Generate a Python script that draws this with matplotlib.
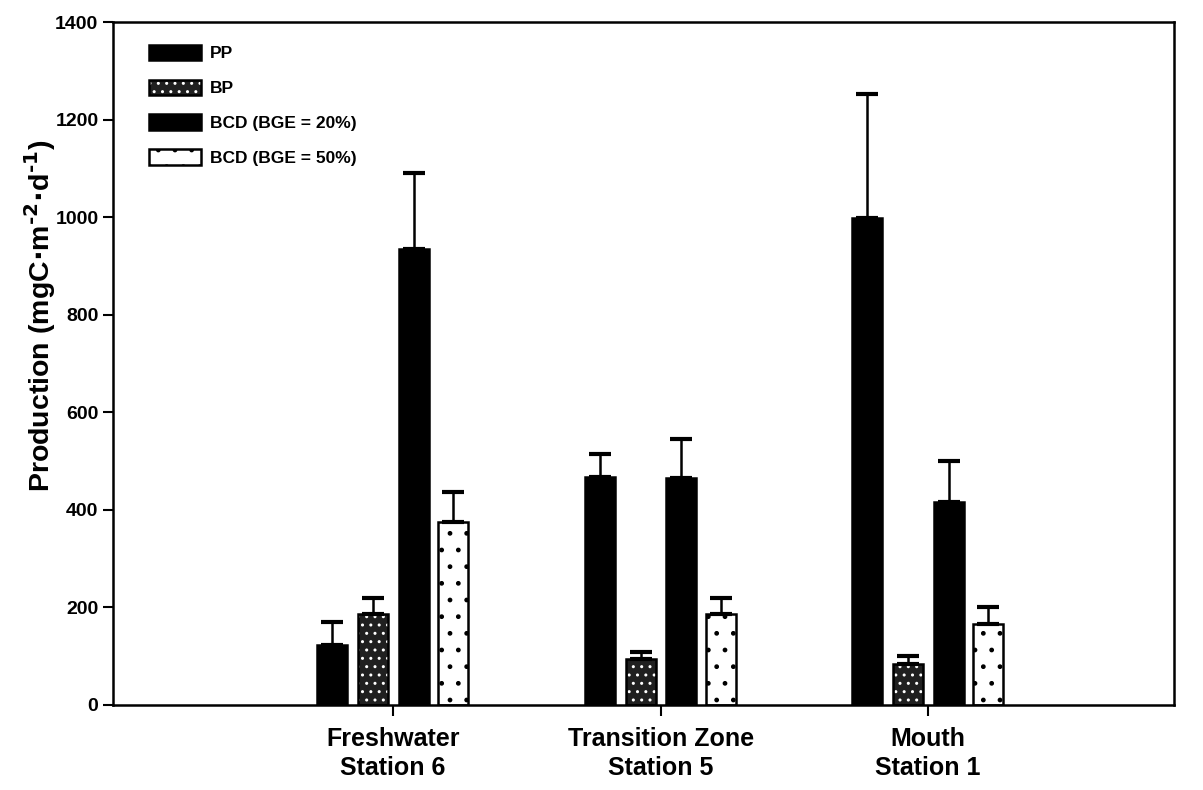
import numpy as np
import matplotlib
matplotlib.use('Agg')
import matplotlib.pyplot as plt
from matplotlib.patches import Patch
from matplotlib.legend_handler import HandlerTuple

plt.rcParams['font.family'] = ['Liberation Sans', 'DejaVu Sans']
plt.rcParams['font.weight'] = 'bold'
plt.rcParams['mathtext.default'] = 'bf'
plt.rcParams['hatch.linewidth'] = 1.0

stations = ['Freshwater\nStation 6', 'Transition Zone\nStation 5', 'Mouth\nStation 1']
series = ['PP', 'BP', 'BCD (BGE = 20%)', 'BCD (BGE = 50%)']

pp = [123, 468, 998]
pp_err = [47, 47, 255]
bp = [187, 93, 83]
bp_err = [31, 16, 17]
bcd20 = [935, 465, 415]
bcd20_err = [155, 80, 85]
bcd50 = [374, 186, 166]
bcd50_err = [62, 32, 34]

values = [pp, bp, bcd20, bcd50]
errors = [pp_err, bp_err, bcd20_err, bcd50_err]

# face, hatch colour, hatch pattern for each series
styles = [
    ('black', None, None),
    ('#202020', 'white', '..'),
    ('black', None, None),
    ('white', 'black', '.'),
]

fig = plt.figure(figsize=(12.03, 7.9), dpi=100)
ax = fig.add_axes([0.094, 0.108, 0.882, 0.864])

x = np.arange(1, len(stations) + 1)
offsets = [-0.227, -0.075, 0.077, 0.225]
width = 0.112

handles = []
for vals, errs, off, (face, hcol, hatch) in zip(values, errors, offsets, styles):
    pos = x + off
    if hatch:
        ax.bar(pos, vals, width, color=face, edgecolor=hcol, hatch=hatch, linewidth=0, zorder=2)
    ax.bar(pos, vals, width, color=face if not hatch else 'none', edgecolor='black', linewidth=1.8, zorder=3)
    ax.errorbar(pos, vals, yerr=[np.zeros(len(vals)), errs], fmt='none', ecolor='black',
                elinewidth=1.8, capsize=8, capthick=3, zorder=4)
    if hatch:
        h = (Patch(facecolor=face, edgecolor=hcol, hatch=hatch, linewidth=0),
             Patch(facecolor='none', edgecolor='black', linewidth=1.8))
    else:
        h = Patch(facecolor=face, edgecolor='black', linewidth=1.8)
    handles.append(h)

ax.set_xlim(-0.047, 3.92)
ax.set_ylim(0, 1400)
ax.set_yticks(range(0, 1401, 200))
ax.set_xticks(x)
ax.set_xticklabels(stations, fontsize=18, fontweight='bold', linespacing=1.25)
ax.tick_params(axis='y', labelsize=14, direction='out', length=7, width=1.5)
ax.tick_params(axis='x', direction='out', length=8, width=1.5, pad=8)
for lab in ax.get_yticklabels():
    lab.set_fontweight('bold')
for sp in ax.spines.values():
    sp.set_linewidth(1.8)

ax.set_ylabel(r'Production (mgC$\cdot$m$^{\mathsf{\text{-}2}}$$\cdot$d$^{\mathsf{\text{-}1}}$)',
              fontsize=20.5, fontweight='bold')
ax.yaxis.set_label_coords(-0.052, 0.57)

ax.legend(handles, series, loc='upper left', bbox_to_anchor=(0.019, 0.99), frameon=False,
          fontsize=12.5, handlelength=3.0, handleheight=1.0, labelspacing=1.05, handletextpad=0.5,
          handler_map={tuple: HandlerTuple(ndivide=1, pad=0)})

fig.savefig('out.png', dpi=100)
